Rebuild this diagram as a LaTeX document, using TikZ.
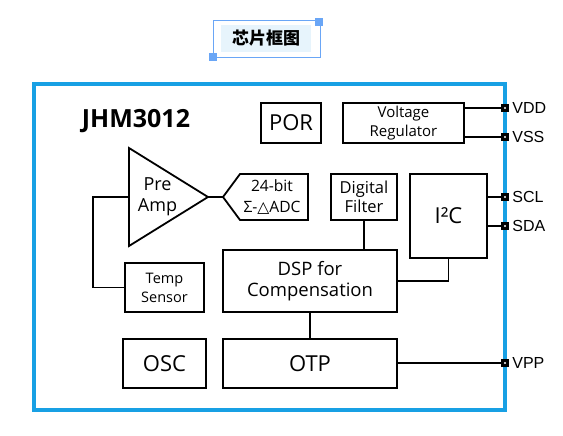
\documentclass[tikz,border=0pt]{standalone}
\usepackage{fontspec}
\setmainfont{Open Sans}
\newfontfamily\pinfont{Liberation Sans}
\newfontfamily\cjk{Noto Sans CJK SC}
\newfontfamily\symfont{DejaVu Sans}
\definecolor{frameblue}{HTML}{18A0E4}
\definecolor{selblue}{HTML}{6AA6F6}
\definecolor{titlefill}{HTML}{E7F4FC}
\tikzset{
  blk/.style={draw=black, line width=1.8pt, inner sep=0pt, align=center},
  blkline/.style={draw=black, line width=1.8pt, line join=miter},
  wire/.style={draw=black, line width=1.6pt},
  pinsq/.style={fill=black, minimum size=8pt, inner sep=0pt,
    path picture={\fill[white] (path picture bounding box.center) circle (1.1pt);}},
  pinlbl/.style={font=\pinfont\fontsize{16}{18}\selectfont, anchor=west, inner sep=0pt},
  big/.style={font=\fontsize{22}{24}\selectfont},
  mid/.style={font=\fontsize{18.5}{21}\selectfont},
  small/.style={font=\fontsize{15}{19}\selectfont},
  handle/.style={fill=selblue, minimum size=8pt, inner sep=0pt}
}
\begin{document}
\begin{tikzpicture}[x=1pt,y=-1pt]
\useasboundingbox (0,0) rectangle (563,436);
\fill[white] (0,0) rectangle (563,436);

% title
\draw[selblue, line width=1pt] (213,21) rectangle (320,58);
\fill[titlefill] (221,25) rectangle (311,52);
\node[handle] (h1) at (319,22) {};
\node[handle] (h2) at (213,57) {};
\node[inner sep=0pt, font=\cjk\bfseries\fontsize{17}{19}\selectfont] (title) at (266,38.5) {芯片框图};

% chip frame
\draw[frameblue, line width=4pt] (34,84) rectangle (505,410);

\node[inner sep=0pt, font=\bfseries\fontsize{25}{27}\selectfont] (chip) at (136,121) {JHM3012};

% blocks
\node[blk, big, minimum width=60pt, minimum height=40pt] (por) at (291,123) {POR};
\node[blk, small, minimum width=121pt, minimum height=40pt] (vreg) at (403.5,123) {Voltage\\Regulator};
\node[blk, font=\fontsize{16.5}{19}\selectfont, minimum width=66pt, minimum height=46pt] (filt) at (364,197) {Digital\\Filter};
\node[blk, big, minimum width=77pt, minimum height=84pt] (i2c) at (448.5,216) {I²C};
\node[blk, mid, minimum width=174pt, minimum height=62pt] (dsp) at (310,281) {DSP for\\Compensation};
\node[blk, big, minimum width=174pt, minimum height=49pt] (otp) at (310,363.5) {OTP};
\node[blk, big, minimum width=83pt, minimum height=49pt] (osc) at (164.5,363.5) {OSC};
\node[blk, font=\fontsize{14.5}{19}\selectfont, minimum width=79pt, minimum height=49pt] (temp) at (164.5,287.5) {Temp\\Sensor};

% pre amp triangle
\coordinate (ampTL) at (129,148);
\coordinate (ampBL) at (129,246);
\coordinate (ampOut) at (208,197);
\coordinate (ampIn) at (129,197);
\draw[blkline] (ampTL) -- (ampOut) -- (ampBL) -- cycle;
\node[inner sep=0pt, align=center, font=\fontsize{18}{21}\selectfont] (amp) at (157.5,197) {Pre\\Amp};

% ADC
\coordinate (adcIn) at (223,197);
\draw[blkline] (adcIn) -- (240,174) -- (308,174) -- (308,220) -- (240,220) -- cycle;
\node[inner sep=0pt, align=center, font=\fontsize{15.6}{21}\selectfont] (adc) at (272,197) {24-bit\\Σ-{\symfont △}ADC};

% pins
\node[pinsq] (vdd) at (505,108) {};
\node[pinsq] (vss) at (505,137) {};
\node[pinsq] (scl) at (505,197) {};
\node[pinsq] (sda) at (505,226) {};
\node[pinsq] (vpp) at (505,363) {};

% connectors
\draw[wire] (ampOut) -- (adcIn);
\coordinate (bend) at (93,197);
\draw[wire] (ampIn) -- (bend) |- (temp.west);
\draw[wire] (filt.south) -- (filt.south |- dsp.north);
\draw[wire] (i2c.south) |- (dsp.east);
\draw[wire] (dsp.south) -- (otp.north);
\draw[wire] (otp.east |- vpp) -- (vpp.west);
\draw[wire] (vreg.east |- vdd) -- (vdd.west);
\draw[wire] (vreg.east |- vss) -- (vss.west);
\draw[wire] (i2c.east |- scl) -- (scl.west);
\draw[wire] (i2c.east |- sda) -- (sda.west);

% pins on top
\node[pinsq] at (vdd) {};
\node[pinsq] at (vss) {};
\node[pinsq] at (scl) {};
\node[pinsq] at (sda) {};
\node[pinsq] at (vpp) {};

\node[pinlbl] (vddl) at ([xshift=3pt]vdd.east) {VDD};
\node[pinlbl] (vssl) at ([xshift=3pt]vss.east) {VSS};
\node[pinlbl] (scll) at ([xshift=3pt]scl.east) {SCL};
\node[pinlbl] (sdal) at ([xshift=3pt]sda.east) {SDA};
\node[pinlbl] (vppl) at ([xshift=3pt]vpp.east) {VPP};
\end{tikzpicture}
\end{document}
